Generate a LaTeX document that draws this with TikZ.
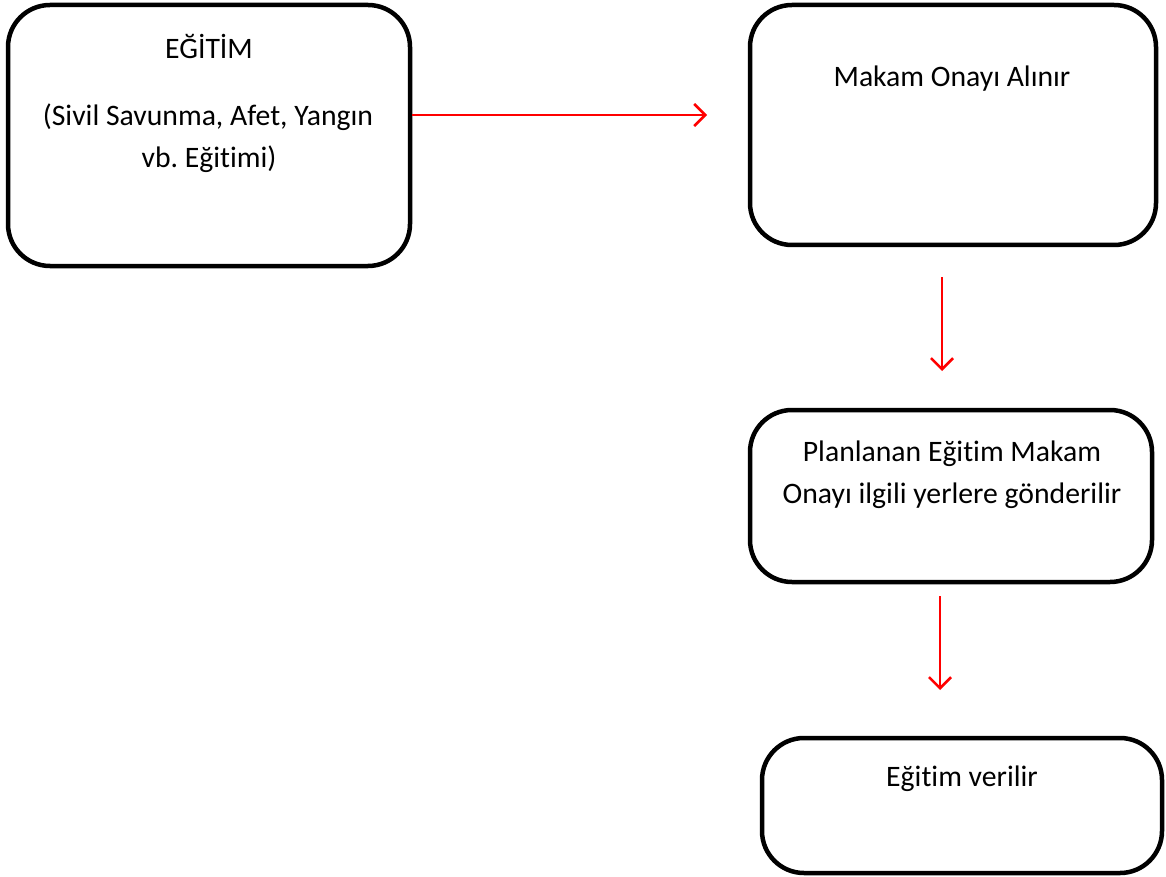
\documentclass[tikz,border=0pt]{standalone}
\usepackage{fontspec}
\setmainfont[Ligatures={NoCommon}]{Carlito}
\frenchspacing
\usetikzlibrary{arrows.meta}
\definecolor{flowred}{RGB}{255,0,0}
\begin{document}
\begin{tikzpicture}[x=1pt,y=-1pt,
  stepbox/.style={draw=black, line width=4.5pt, rounded corners=42pt, inner sep=0pt},
  txt/.style={inner sep=0pt, font=\fontsize{29.7}{42}\selectfont, align=center, anchor=base},
  flow/.style={draw=flowred, line width=2.6pt, -{Straight Barb[length=11pt,width=22pt,line width=2.6pt]}}]
  \useasboundingbox (0,0) rectangle (1166,877);
  % boxes
  \node[stepbox, minimum width=402pt, minimum height=261pt] (egitim) at (209,135.5) {};
  \node[stepbox, minimum width=406pt, minimum height=240pt] (onay) at (953,125) {};
  \node[stepbox, minimum width=402pt, minimum height=172pt] (plan) at (951,496) {};
  \node[stepbox, minimum width=400pt, minimum height=135pt] (ver) at (962,805.5) {};
  % texts
  \node[txt] (t1) at (209,59) {EĞİTİM};
  \node[txt] (t2) at (208,126) {(Sivil Savunma, Afet, Yangın};
  \node[txt] (t3) at (209,168) {vb. Eğitimi)};
  \node[txt] (t4) at (952,87) {Makam Onayı Alınır};
  \node[txt] (t5) at (952,461) {Planlanan Eğitim Makam};
  \node[txt] (t6) at (952,503) {Onayı ilgili yerlere gönderilir};
  \node[txt] (t7) at (962,786) {Eğitim verilir};
  % connectors
  \coordinate (a1e) at (707,115);
  \coordinate (a2s) at (942,277);
  \coordinate (a2e) at (942,371);
  \coordinate (a3s) at (940,596);
  \coordinate (a3e) at (940,690);
  \draw[flow] (egitim.east |- a1e) -- (a1e);
  \draw[flow] (a2s) -- (a2e);
  \draw[flow] (a3s) -- (a3e);
\end{tikzpicture}
\end{document}
